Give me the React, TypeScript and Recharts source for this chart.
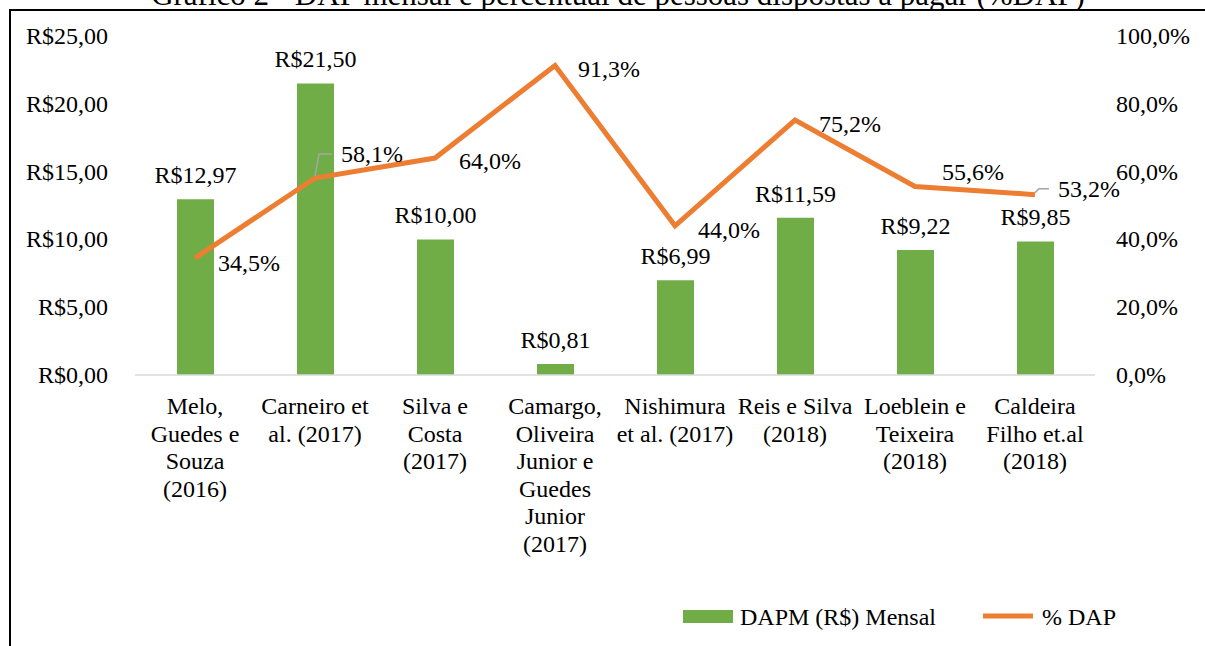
import React from 'react';
import { ComposedChart, Bar, Line, XAxis, YAxis, LabelList, Legend } from 'recharts';

const categories = [
  'Melo,\nGuedes e\nSouza\n(2016)',
  'Carneiro et\nal. (2017)',
  'Silva e\nCosta\n(2017)',
  'Camargo,\nOliveira\nJunior e\nGuedes\nJunior\n(2017)',
  'Nishimura\net al. (2017)',
  'Reis e Silva\n(2018)',
  'Loeblein e\nTeixeira\n(2018)',
  'Caldeira\nFilho et.al\n(2018)',
];
const dapmValues = [12.97, 21.5, 10.0, 0.81, 6.99, 11.59, 9.22, 9.85];
const pctValues = [34.5, 58.1, 64.0, 91.3, 44.0, 75.2, 55.6, 53.2];
const moneyTicks = [0, 5, 10, 15, 20, 25];
const pctTicks = [0, 20, 40, 60, 80, 100];

const TITLE = 'Gráfico 2 - DAP mensal e percentual de pessoas dispostas a pagar (%DAP)';
const FONT = "'Liberation Serif', 'Times New Roman', serif";
const GREEN = '#70AD47';
const ORANGE = '#ED7D31';

// where each % label sits relative to its point (Excel moved a couple by hand)
const pctLabelPlacement = [
  { dx: 23, dy: 5 },
  { dx: 26, dy: -24, leader: true },
  { dx: 24, dy: 3 },
  { dx: 23, dy: 4 },
  { dx: 23, dy: 4 },
  { dx: 24, dy: 4 },
  { dx: 27, dy: -15 },
  { dx: 23, dy: -6, leader: true },
];

const rows = categories.map((c, i) => ({
  category: c,
  dapm: dapmValues[i],
  pct: pctValues[i],
}));

const money = (v: number) => 'R$' + v.toFixed(2).replace('.', ',');
const pct = (v: number) => v.toFixed(1).replace('.', ',') + '%';

const LeftTick = ({ y, payload }: any) => (
  <text x={108} y={y + 8} textAnchor='end' fontSize={24} fontFamily={FONT} fill='#000'>
    {money(payload.value)}
  </text>
);

const RightTick = ({ y, payload }: any) => (
  <text x={1116} y={y + 8} textAnchor='start' fontSize={24} fontFamily={FONT} fill='#000'>
    {pct(payload.value)}
  </text>
);

const CategoryTick = ({ x, y, payload }: any) => {
  const lines = String(payload.value).split('\n');
  return (
    <text textAnchor='middle' fontSize={24} fontFamily={FONT} fill='#000'>
      {lines.map((l, i) => (
        <tspan key={i} x={x} y={y + 31 + i * 27.5}>
          {l}
        </tspan>
      ))}
    </text>
  );
};

const BarLabel = ({ x, y, width, value }: any) => (
  <text x={x + width / 2} y={y - 16} textAnchor='middle' fontSize={24} fontFamily={FONT} fill='#000'>
    {money(value)}
  </text>
);

const PctLabel = ({ x, y, value, index }: any) => {
  const p = pctLabelPlacement[index] || { dx: 23, dy: 4 };
  const cy = y + p.dy;
  return (
    <g>
      {p.leader && (
        <polyline
          points={`${x},${y - 2} ${x + 4},${cy} ${x + p.dx - 9},${cy}`}
          fill='none'
          stroke='#A5A5A5'
          strokeWidth={1.5}
        />
      )}
      <text x={x + p.dx} y={cy + 8} textAnchor='start' fontSize={24} fontFamily={FONT} fill='#000'>
        {pct(value)}
      </text>
    </g>
  );
};

const renderLegend = () => (
  <svg width={1205} height={60} style={{ display: 'block' }}>
    <rect x={683} y={10} width={50} height={13} fill={GREEN} />
    <text x={740} y={25} fontSize={24} fontFamily={FONT} fill='#000'>
      DAPM (R$) Mensal
    </text>
    <line x1={983} x2={1033} y1={16} y2={16} stroke={ORANGE} strokeWidth={5} />
    <text x={1042} y={25} fontSize={24} fontFamily={FONT} fill='#000'>
      % DAP
    </text>
  </svg>
);

export default function App() {
  return (
    <div
      style={{
        position: 'absolute',
        top: 0,
        left: 0,
        width: 1205,
        height: 646,
        overflow: 'hidden',
        background: '#fff',
        fontFamily: FONT,
      }}
    >
      <svg width={1205} height={20} style={{ position: 'absolute', top: 0, left: 0 }}>
        <text x={618} y={5} textAnchor='middle' fontSize={31} fontFamily={FONT} fill='#000'>
          {TITLE}
        </text>
      </svg>
      <div
        style={{
          position: 'absolute',
          left: 9,
          top: 9,
          width: 1300,
          height: 700,
          borderLeft: '2px solid #000',
          borderTop: '2px solid #000',
          background: '#fff',
        }}
      />
      <div style={{ position: 'absolute', top: 0, left: 0 }}>
        <ComposedChart
          width={1205}
          height={646}
          data={rows}
          margin={{ top: 36, right: 0, bottom: 71, left: 0 }}
        >
          <XAxis
            dataKey='category'
            height={200}
            interval={0}
            tickLine={false}
            axisLine={{ stroke: '#D9D9D9', strokeWidth: 1.5 }}
            tick={<CategoryTick />}
          />
          <YAxis
            yAxisId='left'
            width={135}
            domain={[0, 25]}
            ticks={moneyTicks}
            axisLine={false}
            tickLine={false}
            tick={<LeftTick />}
          />
          <YAxis
            yAxisId='right'
            orientation='right'
            width={110}
            domain={[0, 100]}
            ticks={pctTicks}
            axisLine={false}
            tickLine={false}
            tick={<RightTick />}
          />
          <Legend
            verticalAlign='middle'
            layout='horizontal'
            wrapperStyle={{ top: 600, left: 0, width: 1205, height: 60 }}
            content={renderLegend}
          />
          <Bar yAxisId='left' dataKey='dapm' fill={GREEN} barSize={37} isAnimationActive={false}>
            <LabelList dataKey='dapm' content={<BarLabel />} />
          </Bar>
          <Line
            yAxisId='right'
            type='linear'
            dataKey='pct'
            stroke={ORANGE}
            strokeWidth={5}
            dot={false}
            activeDot={false}
            isAnimationActive={false}
          >
            <LabelList dataKey='pct' content={<PctLabel />} />
          </Line>
        </ComposedChart>
      </div>
    </div>
  );
}
